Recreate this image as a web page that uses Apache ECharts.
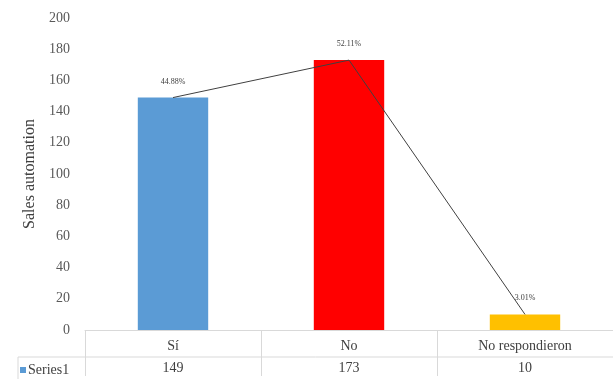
<!DOCTYPE html>
<html><head><meta charset="utf-8">
<script src="https://cdn.jsdelivr.net/npm/echarts@6/dist/echarts.min.js"></script>
<style>html,body{margin:0;padding:0;background:#fff}#c{width:613px;height:379px}</style>
</head><body><div id="c"></div>
<script>
const categories = ['Sí', 'No', 'No respondieron'];
const counts = [149, 173, 10];
const pctLabels = ['44.88%', '52.11%', '3.01%'];
const barColors = ['#5B9BD5', '#FF0000', '#FFC000'];
const yTicks = { min: 0, max: 200, interval: 20 };

const chart = echarts.init(document.getElementById('c'));
const font = '"Liberation Serif", "Times New Roman", serif';
const gridLeft = 85, gridTop = 18, gridBottom = 46;
const plotBottom = 379 - gridBottom;

chart.setOption({
  animation: false,
  textStyle: { fontFamily: font },
  grid: { left: gridLeft, right: -3, top: gridTop, bottom: gridBottom },
  legend: {
    data: ['Series1'], left: 20, top: plotBottom + 30,
    itemWidth: 6, itemHeight: 6, itemGap: 2, icon: 'rect', padding: 0,
    textStyle: { fontFamily: font, fontSize: 14, color: '#404040', padding: [0, 0, 0, -3] }
  },
  xAxis: [{
    type: 'category', data: categories,
    axisLine: { lineStyle: { color: '#D9D9D9' } },
    axisTick: { show: true, length: 46, alignWithLabel: false, lineStyle: { color: '#D9D9D9' } },
    axisLabel: {
      interval: 0, margin: 5, color: '#404040', fontFamily: font,
      formatter: (v, i) => '{a|' + v + '}\n{b|' + counts[i] + '}',
      rich: {
        a: { fontSize: 14, fontFamily: font, color: '#404040', height: 22, lineHeight: 22 },
        b: { fontSize: 14, fontFamily: font, color: '#404040', height: 22, lineHeight: 22 }
      }
    }
  }],
  yAxis: {
    type: 'value', min: yTicks.min, max: yTicks.max, interval: yTicks.interval,
    name: 'Sales automation', nameLocation: 'middle', nameGap: 41,
    nameTextStyle: { fontFamily: font, fontSize: 16, color: '#404040' },
    axisLine: { show: false }, axisTick: { show: false }, splitLine: { show: false },
    axisLabel: { color: '#595959', fontFamily: font, fontSize: 14, margin: 15 }
  },
  graphic: [
    { type: 'line', shape: { x1: 18, y1: plotBottom + 24, x2: 613, y2: plotBottom + 24 }, style: { stroke: '#D9D9D9', lineWidth: 1 } },
    { type: 'line', shape: { x1: 18, y1: plotBottom + 24, x2: 18, y2: 379 }, style: { stroke: '#D9D9D9', lineWidth: 1 } }
  ],
  series: [
    {
      name: 'Series1', type: 'bar', barWidth: '40%',
      itemStyle: { color: barColors[0] },
      data: counts.map((v, i) => ({ value: v, itemStyle: { color: barColors[i] } }))
    },
    {
      name: 'pct', type: 'line', data: counts, symbol: 'circle', symbolSize: 0.1, showSymbol: true,
      itemStyle: { color: '#404040' },
      lineStyle: { color: '#404040', width: 1 },
      label: {
        show: true, position: 'top', distance: 12, fontSize: 8, color: '#404040', fontFamily: font,
        formatter: p => pctLabels[p.dataIndex]
      }
    }
  ]
});
</script></body></html>
